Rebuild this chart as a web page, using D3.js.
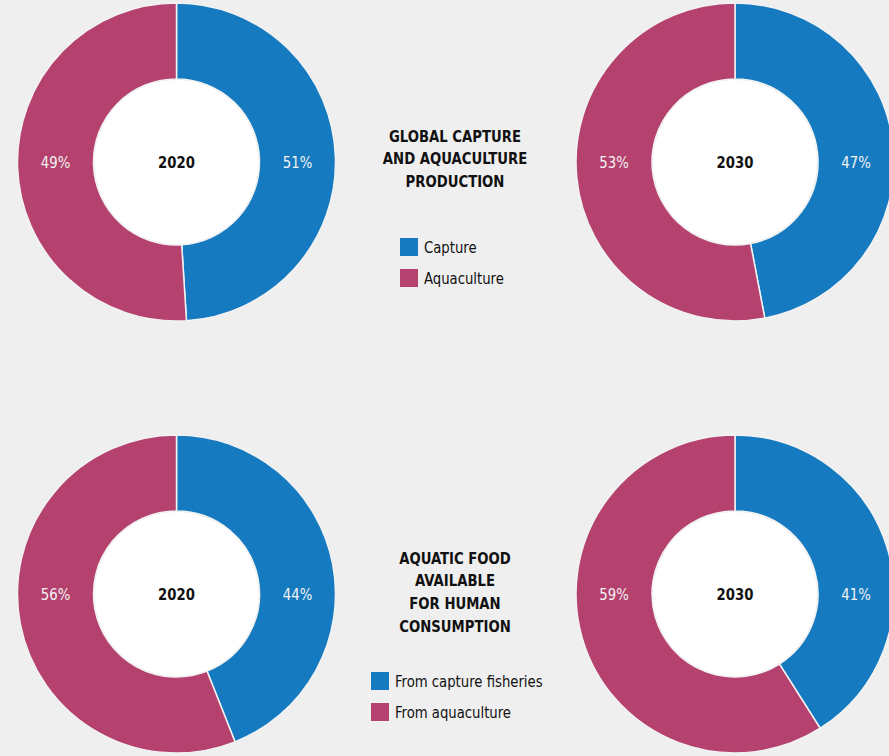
<!DOCTYPE html>
<html><head><meta charset="utf-8">
<script src="https://cdn.jsdelivr.net/npm/d3@7"></script>
<style>
html,body{margin:0;padding:0;background:#efefef;}
svg{display:block;}
text{font-family:"Liberation Sans Narrow","DejaVu Sans Condensed","Roboto",sans-serif;}
</style></head>
<body>
<svg id="c" width="889" height="756"></svg>
<script>
const seriesNames = ["Capture", "Aquaculture"];
// arc shares as drawn in the picture
const production2020 = [49, 51];
const production2030 = [47, 53];
const consumption2020 = [44, 56];
const consumption2030 = [41, 59];
// printed labels
const productionLabels2020 = ["51%", "49%"];
const productionLabels2030 = ["47%", "53%"];
const consumptionLabels2020 = ["44%", "56%"];
const consumptionLabels2030 = ["41%", "59%"];
const years = ["2020", "2030"];
const titleProduction = ["GLOBAL CAPTURE", "AND AQUACULTURE", "PRODUCTION"];
const titleConsumption = ["AQUATIC FOOD", "AVAILABLE", "FOR HUMAN", "CONSUMPTION"];
const legendProduction = ["Capture", "Aquaculture"];
const legendConsumption = ["From capture fisheries", "From aquaculture"];

const colors = d3.scaleOrdinal().domain([0,1]).range(["#157ac0", "#b5416e"]);
const svg = d3.select("#c");
const outerR = 159, innerR = 83;
const SX = 0.92;
const colX = d3.scalePoint().domain(years).range([176.5, 735]);
const rowY = d3.scalePoint().domain(["production","consumption"]).range([162, 594]);

const pie = d3.pie().sort(null).value(d => d);
const arc = d3.arc().innerRadius(innerR).outerRadius(outerR);

function txt(g, x, y, s, opts){
  const t = g.append("text")
    .attr("transform", `translate(${x},${y}) scale(${SX},1)`)
    .attr("dy","0.35em")
    .attr("text-anchor", opts.anchor || "middle")
    .attr("font-size", opts.size || 16)
    .attr("font-weight", opts.weight || "normal")
    .attr("fill", opts.fill || "#111")
    .text(s);
  return t;
}

function donut(values, labels, year, row){
  const cx = colX(year), cy = rowY(row);
  const g = svg.append("g").attr("transform", `translate(${cx},${cy})`);
  const arcs = pie(values);
  g.selectAll("path").data(arcs).join("path")
    .attr("d", arc)
    .attr("fill", (d,i) => colors(i))
    .attr("stroke", "#f2f2f2").attr("stroke-width", 1.5);
  g.append("circle").attr("r", innerR - 1).attr("fill", "#ffffff");
  txt(g, 0, 0, year, {weight:"bold"});
  const midR = (innerR + outerR) / 2;
  arcs.forEach((d,i) => {
    txt(g, i === 0 ? midR : -midR, 0, labels[i], {fill:"#f3f3f3"});
  });
}
donut(production2020, productionLabels2020, "2020", "production");
donut(production2030, productionLabels2030, "2030", "production");
donut(consumption2020, consumptionLabels2020, "2020", "consumption");
donut(consumption2030, consumptionLabels2030, "2030", "consumption");

function title(lines, x, y0){
  const g = svg.append("g");
  lines.forEach((d,i) => txt(g, x, y0 + i*22.7, d, {weight:"bold"}));
}
title(titleProduction, 455, 136);
title(titleConsumption, 455, 558);

function legend(items, x, y0){
  const g = svg.append("g");
  items.forEach((t,i) => {
    const y = y0 + i*31;
    g.append("rect").attr("x", x).attr("y", y-9).attr("width",18).attr("height",18).attr("fill", colors(i));
    txt(g, x+24, y, t, {anchor:"start"});
  });
}
legend(legendProduction, 400, 247);
legend(legendConsumption, 371, 681);
</script>
</body></html>
